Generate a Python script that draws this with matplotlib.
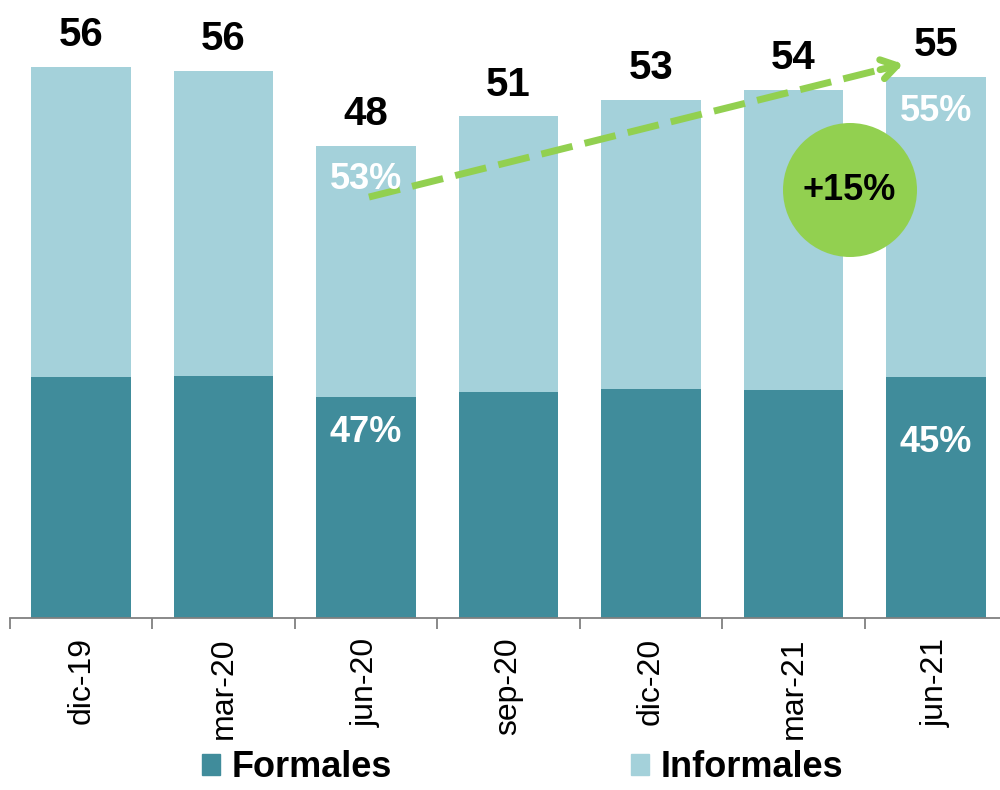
import matplotlib.pyplot as plt
from matplotlib.patches import Patch, Ellipse

plt.rcParams['font.family'] = ['Liberation Sans', 'DejaVu Sans']

periodos = ['dic-19', 'mar-20', 'jun-20', 'sep-20', 'dic-20', 'mar-21', 'jun-21']
formales = [24.5, 24.6, 22.5, 23.0, 23.3, 23.2, 24.5]
informales = [31.5, 31.0, 25.5, 28.0, 29.4, 30.5, 30.5]
totales = ['56', '56', '48', '51', '53', '54', '55']

# etiquetas de porcentaje: (indice barra, texto, y)
pct_informal = [(2, '53%', 44.6), (6, '55%', 51.5)]
pct_formal = [(2, '47%', 18.9), (6, '45%', 17.8)]

c_formal = '#408c9b'
c_informal = '#a4d1da'
verde = '#92d050'

W, H = 1000, 790
fig = plt.figure(figsize=(W / 100, H / 100), dpi=100)
ax = fig.add_axes([0.01, 0.2177, 0.997, 0.747])

x = range(len(periodos))
ax.bar(x, formales, width=0.70, color=c_formal)
ax.bar(x, informales, bottom=formales, width=0.70, color=c_informal)

for i, t in enumerate(totales):
    ax.annotate(t, (i, formales[i] + informales[i]), xytext=(0, 15),
                textcoords='offset points', ha='center', va='baseline',
                fontsize=29, fontweight='bold')

for i, t, y in pct_informal + pct_formal:
    ax.text(i, y, t, ha='center', va='center', color='white',
            fontsize=26, fontweight='bold')

ax.set_xlim(-0.5, 6.5)
ax.set_ylim(0, 60)
for s in ['top', 'right', 'left']:
    ax.spines[s].set_visible(False)
ax.spines['bottom'].set_color('#808080')
ax.spines['bottom'].set_linewidth(1.3)
ax.set_yticks([])
ax.set_xticks(list(x))
ax.set_xticklabels(periodos, rotation=90, fontsize=23)
ax.tick_params(axis='x', which='major', length=0, pad=14)
ax.set_xticks([i - 0.5 for i in range(len(periodos) + 1)], minor=True)
ax.tick_params(axis='x', which='minor', length=8, width=1.3, color='#808080')

# flecha de crecimiento
x0, y0 = 2.02, 42.8
x1, y1 = 5.79, 56.4
ax.plot([x0, x1 - 0.05], [y0, y1 - 0.18], color=verde, lw=5,
        dashes=(4.6, 1.8), solid_capstyle='butt', clip_on=False)
ax.annotate('', xy=(x1, y1), xytext=(x1 - 0.2, y1 - 0.72),
            arrowprops=dict(arrowstyle='->,head_length=1.1,head_width=0.7',
                            color=verde, lw=5, capstyle='round'),
            annotation_clip=False)

# circulo +15%
r = 67
ax.add_patch(Ellipse((850 / W, 1 - 190 / H), 2 * r / W, 2 * r / H,
                     transform=fig.transFigure, facecolor=verde,
                     edgecolor='none', zorder=3))
ax.text(5.39, 43.5, '+15%', ha='center', va='center', fontsize=26,
        fontweight='bold', zorder=4)

handles = [Patch(color=c_formal, label='Formales'),
           Patch(color=c_informal, label='Informales')]
fig.legend(handles=handles, loc='lower left', bbox_to_anchor=(0.184, -0.017),
           ncol=2, frameon=False, handlelength=0.5,
           handleheight=0.5, handletextpad=0.33, columnspacing=6.6,
           borderpad=0, prop={'weight': 'bold', 'size': 26})

fig.savefig('out.png', dpi=100)
